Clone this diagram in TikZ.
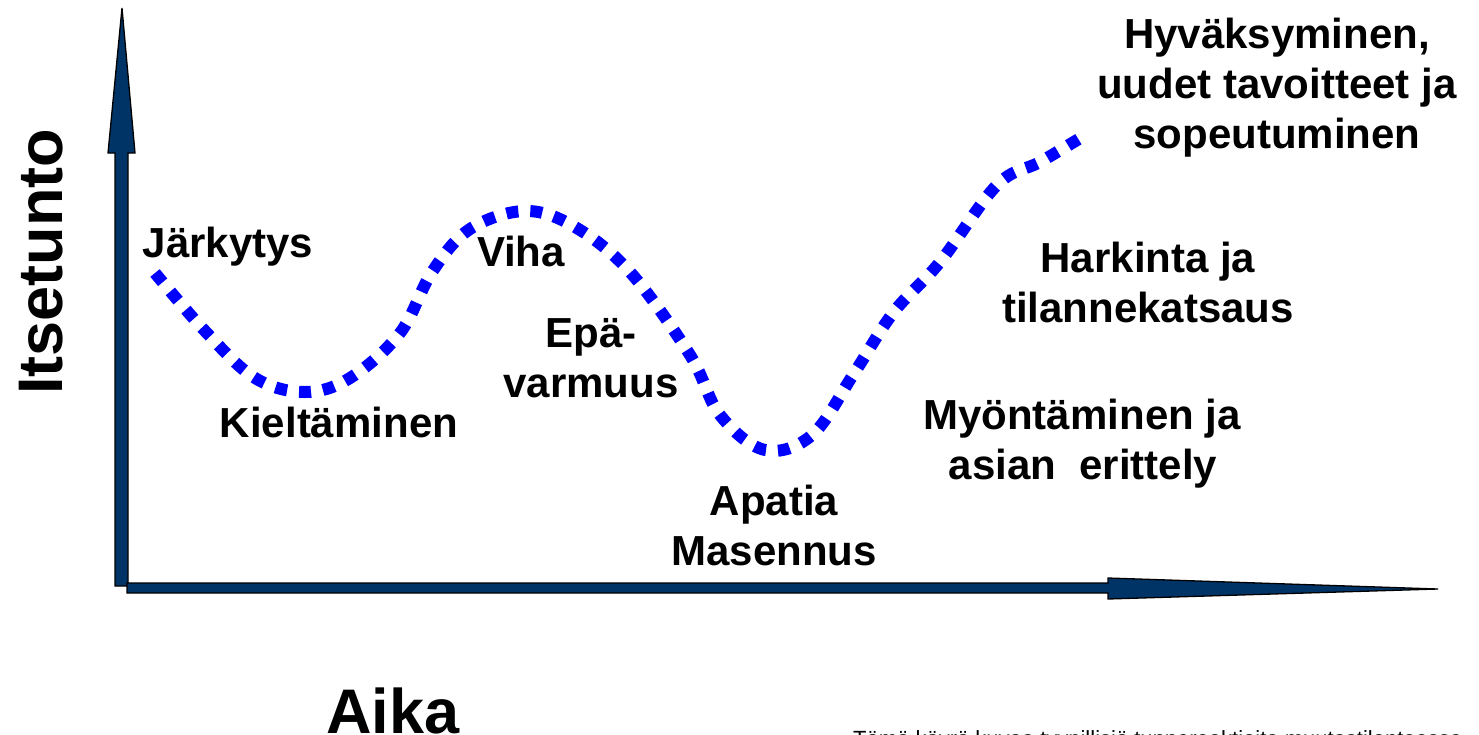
\documentclass[tikz,border=0pt]{standalone}
\usepackage{fontspec}
\setmainfont{Liberation Sans}
\definecolor{axisnavy}{RGB}{0,51,102}
\definecolor{curveblue}{RGB}{0,0,255}
\begin{document}
\begin{tikzpicture}[x=1pt,y=-1pt,
  lbl/.style={font=\fontsize{42}{50}\selectfont\bfseries, anchor=base, inner sep=0pt},
  big/.style={font=\fontsize{63}{70}\selectfont\bfseries, anchor=base, inner sep=0pt},
  note/.style={font=\fontsize{22}{24}\selectfont, anchor=base west, inner sep=0pt},
  axisarrow/.style={fill=axisnavy, draw=black, line width=1.3pt, line join=miter},
  curve/.style={draw=curveblue, line width=12pt, dash pattern=on 12pt off 12pt}]
\useasboundingbox (0,0) rectangle (1479,734);
% vertical axis
\draw[axisarrow] (115,586) -- (115,153) -- (108,153) -- (122,8) -- (135,153) -- (128,153) -- (128,586) -- cycle;
% horizontal axis
\draw[axisarrow] (127,583) -- (1108,583) -- (1108,578) -- (1438,589) -- (1108,599) -- (1108,593) -- (127,593) -- cycle;
% curve
\draw[curve] plot[smooth, tension=0.6] coordinates {(155,273) (205,331) (255,378) (305,392) (350,378) (400,333) (432,272) (470,229) (525,211) (575,227) (630,272) (690,355) (720,415) (765,450) (812,435) (853,375) (893,313) (940,262) (997,185) (1040,162) (1082,137)};
% labels
\node[lbl] (jark) at (228,257) {Järkytys};
\node[lbl] (kielt) at (339,437) {Kieltäminen};
\node[lbl] (viha) at (521,266) {Viha};
\node[lbl] (epa1) at (591,347) {Epä-};
\node[lbl] (epa2) at (591,397) {varmuus};
\node[lbl] (apa1) at (774,515) {Apatia};
\node[lbl] (apa2) at (774,565) {Masennus};
\node[lbl] (myo1) at (1082,429) {Myöntäminen ja};
\node[lbl] (myo2) at (1083,479) {asian\ \ erittely};
\node[lbl] (har1) at (1148,272) {Harkinta ja};
\node[lbl] (har2) at (1148,322) {tilannekatsaus};
\node[lbl] (hyv1) at (1277,48) {Hyväksyminen,};
\node[lbl] (hyv2) at (1277,98) {uudet tavoitteet ja};
\node[lbl] (hyv3) at (1277,148) {sopeutuminen};
\node[big, rotate=90] (itse) at (62,262) {Itsetunto};
\node[big] (aika) at (393,733) {Aika};
\node[note] (huom) at (853,746) {Tämä käyrä kuvaa tyypillisiä tunnereaktioita muutostilanteessa};
\end{tikzpicture}
\end{document}
